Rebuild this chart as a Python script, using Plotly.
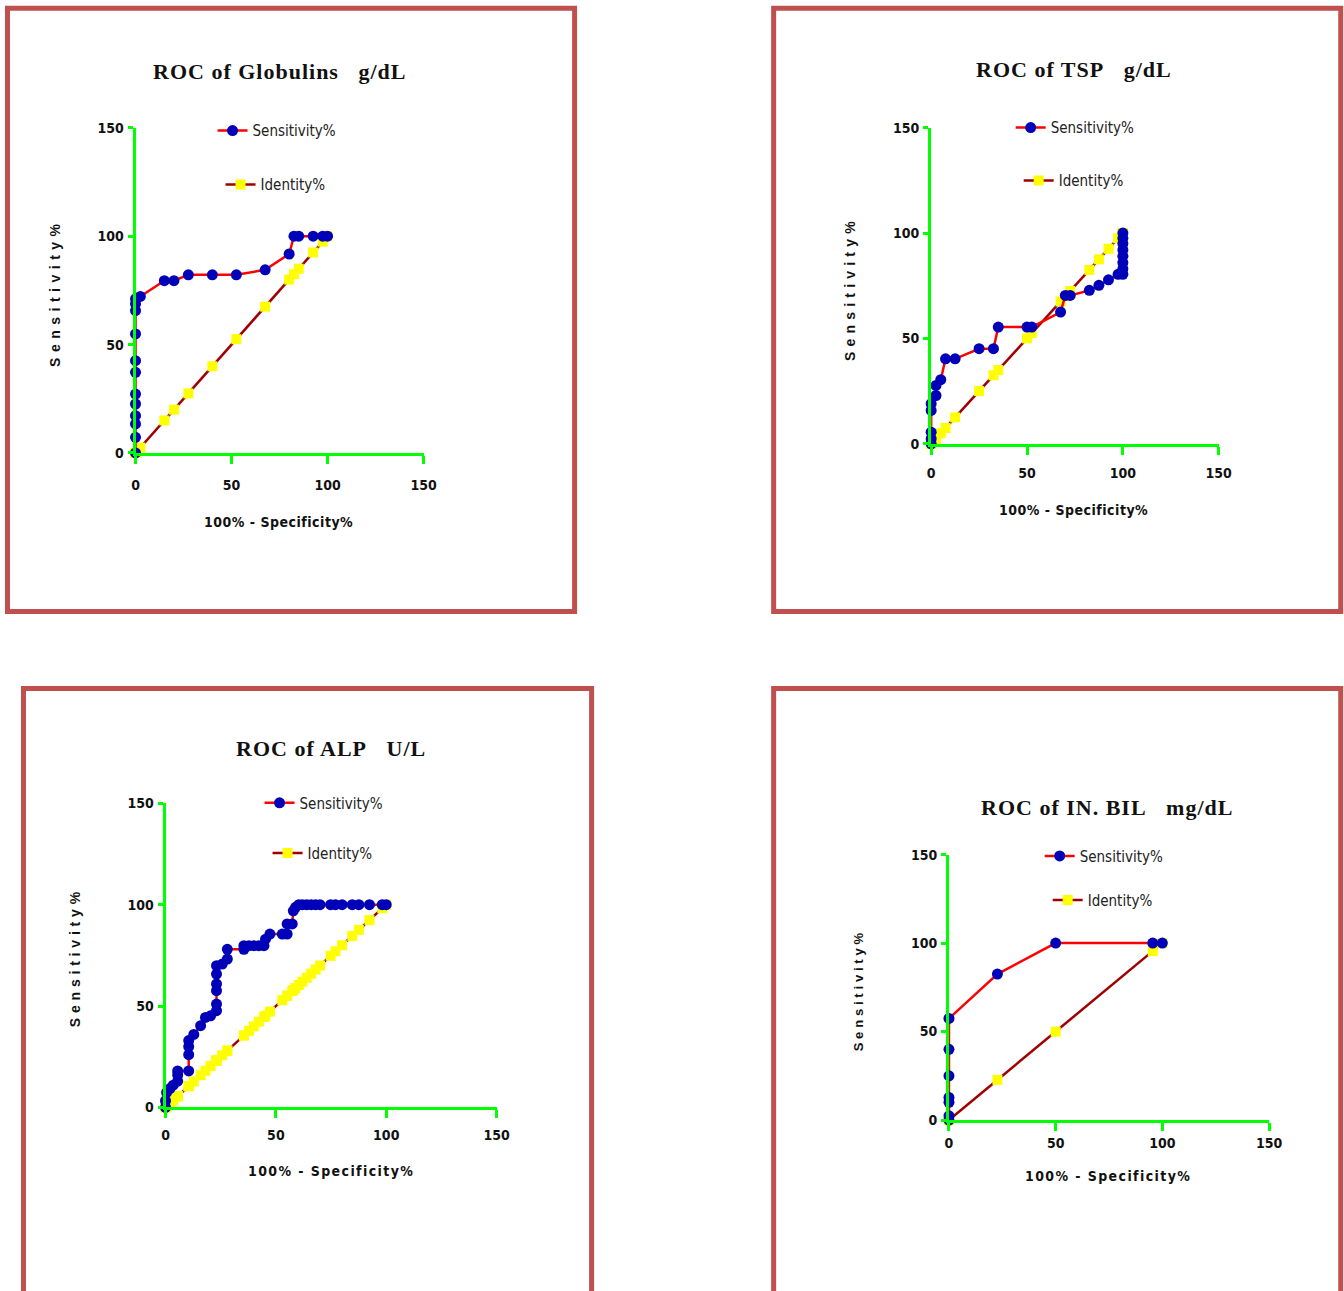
import plotly.graph_objects as go

# ---------------- data: 100% - Specificity% (x) and Sensitivity% (y) ----------------
glob_fpr = [0, 0, 0, 0, 0, 0, 0, 0, 0, 0, 0, 0,
            2.5, 15, 20, 27.5, 40, 52.5, 67.5, 80, 82.5, 85, 92.5, 97.5, 100]
glob_sens = [0, 7.2, 13.4, 17.2, 22.6, 27.2, 37.2, 42.6, 54.9, 65.7, 68.8, 71.1,
             72.2, 79.5, 79.5, 82.2, 82.2, 82.2, 84.5, 91.8, 100, 100, 100, 100, 100]

tsp_fpr = [0, 0, 0, 0, 0, 2.5, 2.5, 5, 7.5, 12.5, 25, 32.5, 35, 50, 52.5,
           67.5, 70, 72.5, 82.5, 87.5, 92.5, 97.5,
           100, 100, 100, 100, 100, 100, 100, 100]
tsp_sens = [0, 2.4, 5.5, 15.8, 19, 22.9, 27.7, 30.4, 40.3, 40.3, 45.1, 45.1, 55.4, 55.4, 55.4,
            62.5, 70.4, 70.4, 72.8, 75.2, 77.8, 80.4,
            80.4, 83, 86, 89, 92, 95, 97.5, 100]

alp_fpr = [0, 0, 0.5, 2, 3.5, 5.5, 5.5, 5.5, 10.5, 10.5, 10.5, 10.5, 12.8, 15.9, 18.1,
           20.4, 23.1, 23.1, 23.1, 23.1, 23.1, 23.1, 25.7, 28, 28, 35.5, 35.5, 37.8,
           40, 42.3, 44.6, 45.3, 47.3, 52.9, 55.1, 55.1, 57.4, 57.9, 58.9, 60.4, 62,
           64, 66, 68, 70, 74.8, 77, 80, 84.6, 87.6, 92.4, 98.2, 100]
alp_sens = [0, 3.3, 7.4, 9.3, 11, 13, 16, 18, 18, 26, 30, 33, 36, 40.3, 44.4,
            45.2, 47.7, 51, 57.6, 60.9, 65.8, 69.9, 70.7, 73.2, 78, 78, 79.8, 79.8,
            79.8, 79.8, 79.8, 83, 85.5, 85.5, 85.5, 90.5, 90.5, 97, 98.7, 100, 100,
            100, 100, 100, 100, 100, 100, 100, 100, 100, 100, 100, 100]

bil_fpr = [0, 0, 0, 0, 0, 0, 0, 22.7, 50, 95.5, 100]
bil_sens = [0, 2.4, 10, 12.8, 25, 40, 57.4, 82.5, 100, 100, 100]

axis_ticks = [0, 50, 100, 150]

# layout positions below are given in final-image pixels; the page is
# rendered slightly scaled and offset, so convert them to figure pixels
SCALE = 0.9873
OFF_X, OFF_Y = 3.5, 7.7
W, H = 1358, 1300
BORDER = "#C0504D"
AXIS_GREEN = "#00FF00"
SENS_LINE = "#FF0000"
SENS_MARK = "#0000B8"
IDENT_LINE = "#A00000"
IDENT_MARK = "#FFFF00"
NARROW = "Liberation Sans Narrow, Arial Narrow, DejaVu Sans Condensed, sans-serif"
SERIF = "Liberation Serif, Times New Roman, serif"
SANS = "Liberation Sans, Arial, sans-serif"


def px(x):
    """image x (pixels) -> paper fraction"""
    return ((x - OFF_X) / SCALE) / W


def py(y):
    """image y (pixels, from top) -> paper fraction"""
    return 1 - ((y - OFF_Y) / SCALE) / H


NB = "\u00a0"
panels = [
    dict(name="ROC of Globulins" + NB * 3 + "g/dL", fpr=glob_fpr, sens=glob_sens,
         x0=135, x150=423, y0=452.5, y150=127.5,
         box=(7, 8, 574, 611), title_xy=(279, 71),
         ytitle_xy=(55, 293), ytitle_sp=5.5, xtitle_xy=(278, 521), xtitle_sp=0.5,
         leg_sens=(212, 114), leg_ident=(220, 168), ytsize=14, xstand=9),
    dict(name="ROC of TSP" + NB * 3 + "g/dL", fpr=tsp_fpr, sens=tsp_sens,
         x0=930.5, x150=1218, y0=443.3, y150=127.3,
         box=(773, 8, 1340, 611), title_xy=(1073, 69),
         ytitle_xy=(850, 288), ytitle_sp=5.2, xtitle_xy=(1073, 510), xtitle_sp=0.5,
         leg_sens=(1010, 111), leg_ident=(1018, 164), ytsize=14, xstand=6),
    dict(name="ROC of ALP" + NB * 3 + "U/L", fpr=alp_fpr, sens=alp_sens,
         x0=165, x150=496, y0=1106.7, y150=802.7,
         box=(23, 688, 591, 1300), title_xy=(330, 748),
         ytitle_xy=(74, 957), ytitle_sp=4.8, xtitle_xy=(330, 1170), xtitle_sp=1.4,
         leg_sens=(259, 786), leg_ident=(267, 836), ytsize=14, xstand=5),
    dict(name="ROC of IN. BIL" + NB * 3 + "mg/dL", fpr=bil_fpr, sens=bil_sens,
         x0=948.3, x150=1268.3, y0=1119.3, y150=854,
         box=(773, 688, 1340, 1300), title_xy=(1106, 807),
         ytitle_xy=(858, 990), ytitle_sp=3.8, xtitle_xy=(1107, 1175), xtitle_sp=1.4,
         leg_sens=(1039, 839), leg_ident=(1047, 883), ytsize=13, xstand=0),
]

fig = go.Figure()
layout = dict(width=W, height=H, margin=dict(l=0, r=0, t=0, b=0),
              paper_bgcolor="white", plot_bgcolor="white",
              shapes=[], annotations=[], showlegend=True)


def legend_box(xy):
    return dict(x=px(xy[0]), y=py(xy[1]), xanchor="left", yanchor="top",
                bgcolor="rgba(0,0,0,0)",
                font=dict(family=NARROW, size=15, color="#222222"),
                itemclick=False, itemdoubleclick=False)


for i, p in enumerate(panels, start=1):
    sfx = "" if i == 1 else str(i)
    xa, ya = f"x{sfx}", f"y{sfx}"
    leg_s = "legend" if i == 1 else f"legend{2 * i - 1}"
    leg_i = f"legend{2 * i}"

    # identity (chance) line drawn first so the ROC curve sits on top
    fig.add_trace(go.Scatter(
        x=p["fpr"], y=p["fpr"], mode="lines+markers", name="Identity%",
        xaxis=xa, yaxis=ya, legend=leg_i,
        line=dict(color=IDENT_LINE, width=2.5),
        marker=dict(symbol="square", size=10, color=IDENT_MARK),
        cliponaxis=False))
    fig.add_trace(go.Scatter(
        x=p["fpr"], y=p["sens"], mode="lines+markers", name="Sensitivity%",
        xaxis=xa, yaxis=ya, legend=leg_s,
        line=dict(color=SENS_LINE, width=2.5),
        marker=dict(symbol="circle", size=11, color=SENS_MARK),
        cliponaxis=False))

    tickfont = dict(family=NARROW, size=14, color="#111111", weight="bold")
    common = dict(range=[0, 150], tickvals=axis_ticks, showline=True,
                  linecolor=AXIS_GREEN, linewidth=3, ticks="outside",
                  tickcolor=AXIS_GREEN, tickwidth=3, showgrid=False,
                  zeroline=False, tickfont=tickfont, fixedrange=True)
    layout[f"xaxis{sfx}"] = dict(common, domain=[px(p["x0"]), px(p["x150"])],
                                 anchor=ya, ticklen=8, ticklabelstandoff=p["xstand"])
    layout[f"yaxis{sfx}"] = dict(common, domain=[py(p["y0"]), py(p["y150"])],
                                 anchor=xa, ticklen=5, ticklabelstandoff=1)

    layout[leg_s] = legend_box(p["leg_sens"])
    layout[leg_i] = legend_box(p["leg_ident"])

    bx0, by0, bx1, by1 = p["box"]
    layout["shapes"].append(dict(type="rect", xref="paper", yref="paper",
                                 x0=px(bx0), x1=px(bx1), y0=py(by1), y1=py(by0),
                                 line=dict(color=BORDER, width=5), layer="below"))

    tx, ty = p["title_xy"]
    layout["annotations"].append(dict(
        xref="paper", yref="paper", x=px(tx), y=py(ty), showarrow=False,
        xanchor="center", yanchor="middle",
        text=f'<span style="letter-spacing:1px">{p["name"]}</span>',
        font=dict(family=SERIF, size=22, color="#111111", weight="bold")))

    yx, yy = p["ytitle_xy"]
    layout["annotations"].append(dict(
        xref="paper", yref="paper", x=px(yx), y=py(yy), showarrow=False,
        xanchor="center", yanchor="middle", textangle=-90,
        text=f'<span style="letter-spacing:{p["ytitle_sp"]}px">Sensitivity%</span>',
        font=dict(family=SANS, size=p["ytsize"], color="#111111", weight="bold")))

    xx, xy = p["xtitle_xy"]
    layout["annotations"].append(dict(
        xref="paper", yref="paper", x=px(xx), y=py(xy), showarrow=False,
        xanchor="center", yanchor="middle",
        text=f'<span style="letter-spacing:{p["xtitle_sp"]}px">100% - Specificity%</span>',
        font=dict(family=NARROW, size=14, color="#111111", weight="bold")))

fig.update_layout(**layout)
fig.write_html("out.html")
